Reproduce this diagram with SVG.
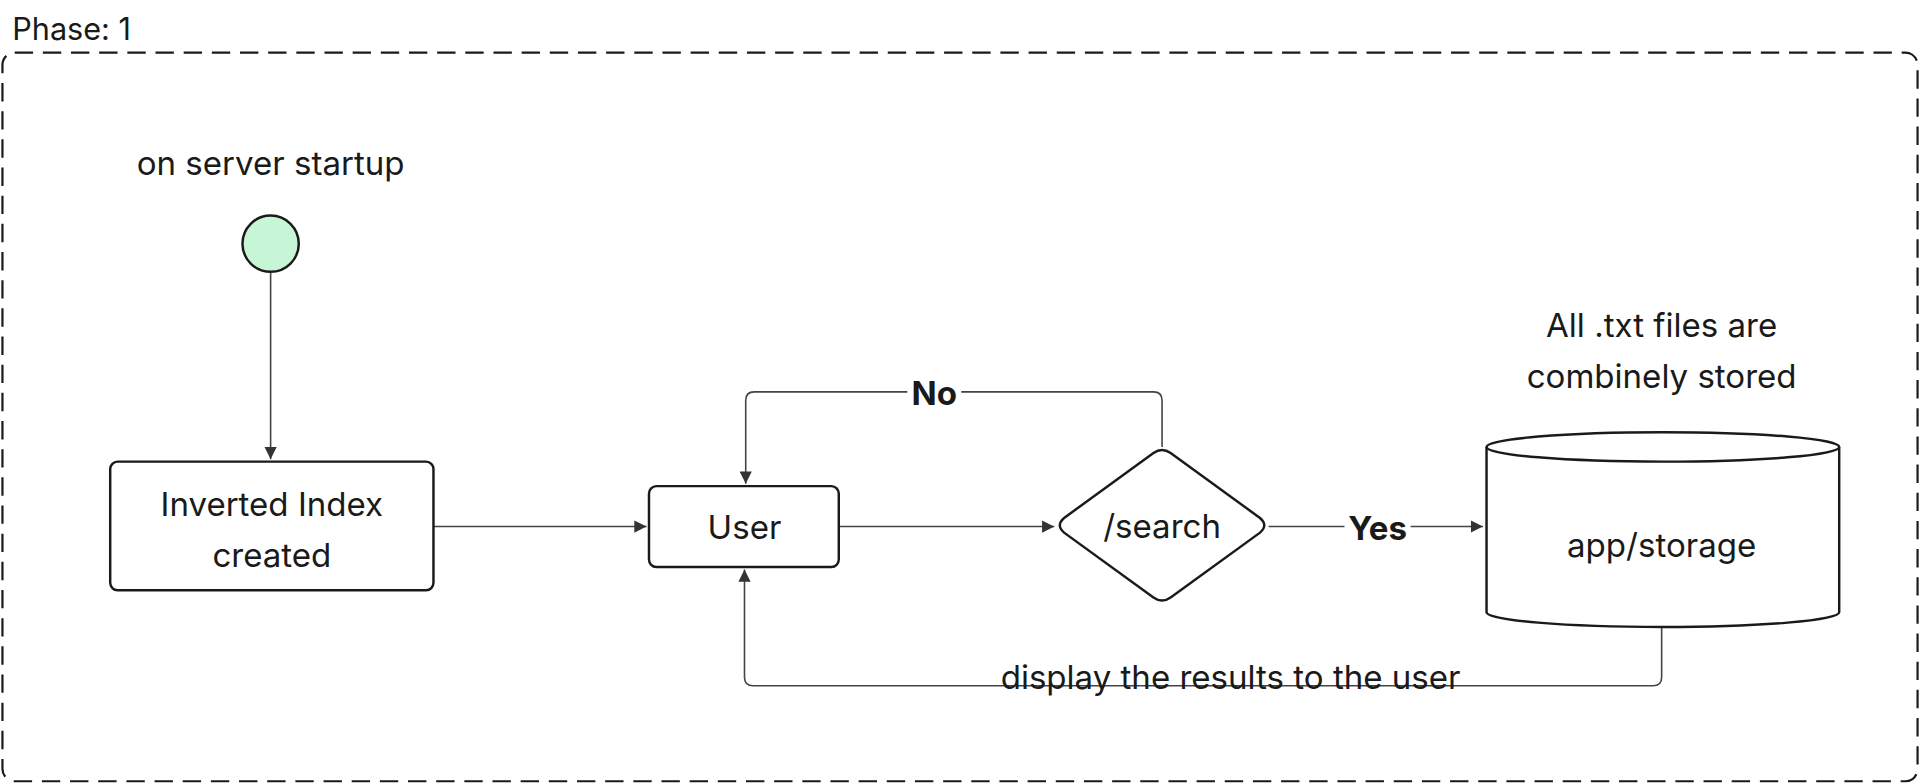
<svg xmlns="http://www.w3.org/2000/svg" width="1920" height="784" viewBox="0 0 1920 784">
<defs>
<marker id="ar" viewBox="0 0 10 10" refX="10" refY="5" markerWidth="10" markerHeight="10" markerUnits="userSpaceOnUse" orient="auto"><path d="M0,0 L10,5 L0,10 Z" fill="#333"/></marker>
<style>
text{font-family:Inter,"Liberation Sans",sans-serif;fill:#1a1a1a}
.n{fill:#fff;stroke:#1a1a1a;stroke-width:2}
.c{fill:none;stroke:#444;stroke-width:1.3;marker-end:url(#ar)}
</style>
</defs>
<rect width="1920" height="784" fill="#fff"/>
<g transform="scale(1.2245)">
<g id="frame">
<rect x="2" y="43" width="1564" height="595" rx="10" fill="none" stroke="#1a1a1a" stroke-width="1.8" stroke-dasharray="15 8"/>
<text x="10" y="33" font-size="25">Phase: 1</text>
</g>
<g id="connectors">
<path class="c" d="M221,222 V375"/>
<path class="c" d="M354,430 H528"/>
<path class="c" d="M685,430 H861"/>
<path class="c" d="M1036,430 H1211"/>
<path class="c" d="M949,365 V327 Q949,320 942,320 H616 Q609,320 609,327 V395"/>
<path class="c" d="M1357,512 V553 Q1357,560 1350,560 H615 Q608,560 608,553 V465"/>
<rect x="741" y="308" width="44" height="26" fill="#fff"/>
<text x="763" y="331" font-size="27" font-weight="bold" text-anchor="middle">No</text>
<rect x="1098" y="418" width="54" height="26" fill="#fff"/>
<text x="1125" y="441" font-size="27" font-weight="bold" text-anchor="middle">Yes</text>
<text x="1005" y="563" font-size="27" text-anchor="middle">display the results to the user</text>
</g>
<g id="start">
<text x="221" y="143" font-size="27" text-anchor="middle">on server startup</text>
<circle cx="221" cy="199" r="23" fill="#c6f6d5" stroke="#1a1a1a" stroke-width="2"/>
</g>
<g id="inverted">
<rect class="n" x="90" y="377" width="264" height="105" rx="6"/>
<text x="222" y="421" font-size="27" text-anchor="middle">Inverted Index</text>
<text x="222" y="463" font-size="27" text-anchor="middle">created</text>
</g>
<g id="user">
<rect class="n" x="530" y="397" width="155" height="66" rx="6"/>
<text x="608" y="440" font-size="27" text-anchor="middle">User</text>
</g>
<g id="search">
<path class="n" d="M942,370 Q949,365 956,370 L1029,423 Q1036,429 1029,435 L956,488 Q949,493 942,488 L869,435 Q862,429 869,423 Z"/>
<text x="949" y="439" font-size="27" text-anchor="middle">/search</text>
</g>
<g id="storage">
<text x="1357" y="275" font-size="27" text-anchor="middle">All .txt files are</text>
<text x="1357" y="317" font-size="27" text-anchor="middle">combinely stored</text>
<path class="n" d="M1214,365 V500 A144,12 0 0 0 1502,500 V365"/>
<ellipse class="n" cx="1358" cy="365" rx="144" ry="12"/>
<text x="1357" y="455" font-size="27" text-anchor="middle">app/storage</text>
</g>
</g>
</svg>
